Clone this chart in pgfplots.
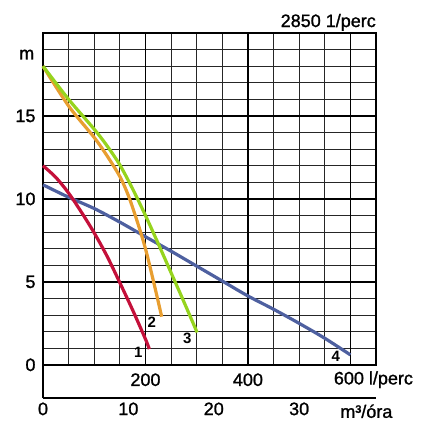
\documentclass[border=0pt]{standalone}
\usepackage{fontspec}
\setmainfont{Liberation Sans}
\newfontface\medium{Liberation Sans}[FakeBold=1.2]
\usepackage{pgfplots}
\pgfplotsset{compat=1.18}

\definecolor{pumpred}{RGB}{196,16,58}
\definecolor{pumporange}{RGB}{232,158,48}
\definecolor{pumpgreen}{RGB}{150,212,30}
\definecolor{pumpblue}{RGB}{78,96,160}

\begin{document}
\begin{tikzpicture}[font=\medium\fontsize{18bp}{21bp}\selectfont,
  minorgrid/.style={black!85, line width=1bp},
  majorgrid/.style={black, line width=1.6bp},
  frame/.style={black, line width=2bp},
  curve/.style={line width=3.2bp, smooth},
  num/.style={font=\fontsize{15bp}{18bp}\selectfont\bfseries, inner sep=0pt}]
  \begin{axis}[
      at={(0,0)}, anchor=south west,
      scale only axis, width=333bp, height=365bp,
      xmin=0, xmax=39, ymin=-2, ymax=20,
      axis line style={draw=none},
      xtick={0,10,20,30}, ytick={0,5,10,15},
      major tick length=0pt,
      /pgf/number format/assume math mode=true,
      tick label style={font=\medium\fontsize{18bp}{21bp}\selectfont},
      xticklabel style={yshift=-1bp},
      yticklabel style={xshift=-4bp},
      clip=false,
    ]
    % grid, only above the 0 m line
    \pgfplotsinvokeforeach{3,6,9,15,18,21,27,30,33}{
      \draw[minorgrid] (axis cs:#1,0) -- (axis cs:#1,20);}
    \pgfplotsinvokeforeach{1,2,3,4,6,7,8,9,11,12,13,14,16,17,18,19}{
      \draw[minorgrid] (axis cs:0,#1) -- (axis cs:39,#1);}
    \pgfplotsinvokeforeach{12,24,36}{
      \draw[majorgrid] (axis cs:#1,0) -- (axis cs:#1,20);}
    \pgfplotsinvokeforeach{5,10,15}{
      \draw[majorgrid] (axis cs:0,#1) -- (axis cs:39,#1);}
    \draw[frame] (axis cs:0,-2) -- (axis cs:39,-2);
    \draw[frame] (axis cs:0,-2) -- (axis cs:0,20) -- (axis cs:39,20) -- (axis cs:39,0) -- (axis cs:0,0);

    % 4
    \addplot[curve, pumpblue] coordinates {
      (0,10.85) (3,10.1) (6,9.42) (9,8.6) (12,7.72) (15,6.85) (18,5.95)
      (21,5.05) (24,4.15) (27,3.35) (30,2.5) (33,1.6) (36,0.6)};
    % 1
    \addplot[curve, pumpred] coordinates {
      (0,12.0) (1.5,11.3) (3,10.35) (4.5,9.2) (6,7.95) (7.5,6.55)
      (9,4.95) (10.5,3.3) (12,1.55) (12.45,0.95)};
    % 2
    \addplot[curve, pumporange] coordinates {
      (0,18) (3,15.6) (6,13.7) (7.5,12.6) (9,11.35) (10,10.2) (11,8.7)
      (12,7.0) (13,4.9) (13.9,2.9)};
    % 3
    \addplot[curve, pumpgreen] coordinates {
      (0,18) (3,16.0) (6,14.2) (7.5,13.2) (9,12.05) (10.5,10.6) (12,9.0)
      (13.5,7.3) (15,5.55) (16.5,3.8) (18.05,1.95)};

    \node[num] at (axis cs:11.16,0.74) {1};
    \node[num] at (axis cs:12.73,2.55) {2};
    \node[num] at (axis cs:16.9,1.6) {3};
    \node[num] at (axis cs:34.3,0.5) {4};

    \node at (axis cs:12,-0.9) {200};
    \node at (axis cs:24,-0.9) {400};
    \node[anchor=west, inner sep=0pt] at (axis cs:34.05,-0.9) {600 l/perc};
    \node[anchor=west, inner sep=0pt] at (axis cs:34.8,-2.8) {m³/óra};
    \node at (axis cs:-1.91,18.7) {m};
    \node[anchor=base east, inner sep=0pt] at (axis cs:39,20.36) {2850 1/perc};
  \end{axis}
  \path[use as bounding box] (-43bp,-44bp) rectangle (394bp,398bp);
\end{tikzpicture}
\end{document}
